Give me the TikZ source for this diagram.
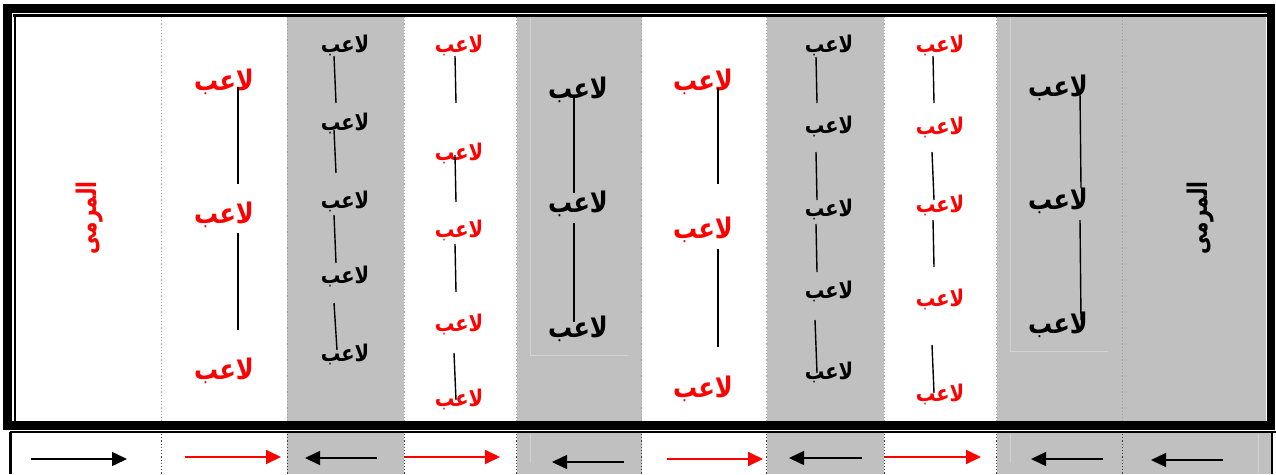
\documentclass[tikz,border=0pt]{standalone}
\usepackage{fontspec}
\usetikzlibrary{arrows.meta}
\newfontfamily\arabicfont[Script=Arabic]{DejaVu Sans}
\TeXXeTstate=1
\definecolor{cellgrey}{HTML}{C0C0C0}
\definecolor{faintline}{HTML}{D2D2D2}
\definecolor{sepgrey}{HTML}{A0A0A0}
\definecolor{sepdark}{HTML}{404040}
\definecolor{plred}{HTML}{FF0000}
\newcommand{\lw}{\scalebox{1}[1.18]{\beginR لاعب\endR}}
\newcommand{\goalw}{\scalebox{1}[1.35]{\beginR المرمى\endR}}
\begin{document}
\begin{tikzpicture}[x=1pt,y=-1pt,
  bigl/.style={inner sep=0pt, font=\arabicfont\bfseries\fontsize{24}{28}\selectfont},
  smalll/.style={inner sep=0pt, font=\arabicfont\bfseries\fontsize{19.5}{23}\selectfont},
  goal/.style={inner sep=0pt, rotate=90, font=\arabicfont\bfseries\fontsize{20}{24}\selectfont},
  redp/.style={text=plred},
  blackp/.style={text=black},
  link/.style={draw=black, line width=1.4pt},
  arrowr/.style={draw=plred, line width=1.8pt, -{Triangle[length=15pt,width=14pt]}},
  arrowb/.style={draw=black, line width=1.5pt, -{Triangle[length=15pt,width=14pt]}},
  topsep/.style={draw=sepgrey, line width=1.2pt, dotted},
  botsep/.style={draw=sepdark, line width=1.2pt, dotted},
  greycell/.style={fill=cellgrey},
  faint/.style={draw=faintline, line width=0.8pt}
]
\useasboundingbox (0,0) rectangle (1276,474);
\fill[white] (0,0) rectangle (1276,474);

% grey columns, top region
\foreach \a/\b in {287.3/404.3, 516.7/641.7, 766.7/884.3, 996.7/1122.7, 1122.7/1266}
  \fill[greycell] (\a,16.5) rectangle (\b,421);
% grey columns, bottom row
\foreach \a/\b in {287.3/404.3, 516.7/641.7, 766.7/884.3, 996.7/1122.7, 1122.7/1271}
  \fill[greycell] (\a,433) rectangle (\b,474);

% faint inner boxes
\draw[faint] (530.7,16.5) -- (530.7,355) -- (627.7,355);
\draw[faint] (1010.7,16.5) -- (1010.7,351) -- (1107.7,351);
\draw[faint] (530.7,434) -- (530.7,463);
\draw[faint] (1010.7,434) -- (1010.7,463);
\draw[faint] (1258,434) -- (1258,474);

% column separators
\foreach \x in {161.7, 287.3, 404.3, 516.7, 641.7, 766.7, 884.3, 996.7, 1122.7}
  \draw[topsep] (\x,17) -- (\x,421);
\foreach \x in {161.7, 287.3, 404.3, 516.7, 641.7, 766.7, 884.3, 996.7, 1122.7}
  \draw[botsep] (\x,434) -- (\x,474);

% frame: thick outer, thin inner (left and top)
\draw[line width=8.6pt] (7.6,8.4) rectangle (1270.8,425.2);
\draw[line width=2.3pt] (14.7,14.3) -- (14.7,421);
\draw[line width=2.3pt] (13.4,15.5) -- (1266.5,15.5);
% bottom row borders
\draw[line width=1.8pt] (9.5,432) -- (1276,432);
\draw[line width=2.2pt] (10.5,432) -- (10.5,474);
\draw[line width=2.2pt] (1271.7,432) -- (1271.7,474);

% goal labels
\node[goal, redp] (goalL) at (90,218) {\goalw};
\node[goal, blackp] (goalR) at (1201,218) {\goalw};

% column 2 (red)
\node[bigl, redp] (c2a) at (224,82) {\lw};
\node[bigl, redp] (c2b) at (224,215) {\lw};
\node[bigl, redp] (c2c) at (224,371) {\lw};
% column 3 (black)
\node[smalll, blackp] (c3a) at (345,45) {\lw};
\node[smalll, blackp] (c3b) at (345,123) {\lw};
\node[smalll, blackp] (c3c) at (345,201) {\lw};
\node[smalll, blackp] (c3d) at (345,276) {\lw};
\node[smalll, blackp] (c3e) at (345,354) {\lw};
% column 4 (red)
\node[smalll, redp] (c4a) at (459,45) {\lw};
\node[smalll, redp] (c4b) at (459,153) {\lw};
\node[smalll, redp] (c4c) at (459,230) {\lw};
\node[smalll, redp] (c4d) at (459,324) {\lw};
\node[smalll, redp] (c4e) at (459,399) {\lw};
% column 5 (black)
\node[bigl, blackp] (c5a) at (578,90) {\lw};
\node[bigl, blackp] (c5b) at (578,204) {\lw};
\node[bigl, blackp] (c5c) at (578,329) {\lw};
% column 6 (red)
\node[bigl, redp] (c6a) at (703,82) {\lw};
\node[bigl, redp] (c6b) at (703,230) {\lw};
\node[bigl, redp] (c6c) at (703,389) {\lw};
% column 7 (black)
\node[smalll, blackp] (c7a) at (829,45) {\lw};
\node[smalll, blackp] (c7b) at (829,126) {\lw};
\node[smalll, blackp] (c7c) at (829,209) {\lw};
\node[smalll, blackp] (c7d) at (829,291) {\lw};
\node[smalll, blackp] (c7e) at (829,372) {\lw};
% column 8 (red)
\node[smalll, redp] (c8a) at (940,45) {\lw};
\node[smalll, redp] (c8b) at (940,127) {\lw};
\node[smalll, redp] (c8c) at (940,205) {\lw};
\node[smalll, redp] (c8d) at (940,299) {\lw};
\node[smalll, redp] (c8e) at (940,394) {\lw};
% column 9 (black)
\node[bigl, blackp] (c9a) at (1058,88) {\lw};
\node[bigl, blackp] (c9b) at (1058,201) {\lw};
\node[bigl, blackp] (c9c) at (1058,325) {\lw};

% connecting lines
\draw[link] (238,87) coordinate (l2a) -- (238,184) coordinate (l2b);
\draw[link] (238,233) coordinate (l2c) -- (238,330) coordinate (l2d);
\draw[link] (334,56) coordinate (l3a) -- (336,103) coordinate (l3b);
\draw[link] (334,130) coordinate (l3c) -- (336,173) coordinate (l3d);
\draw[link] (334,215) coordinate (l3e) -- (336,263) coordinate (l3f);
\draw[link] (334,303) coordinate (l3g) -- (337,350) coordinate (l3h);
\draw[link] (455,56) coordinate (l4a) -- (456,103) coordinate (l4b);
\draw[link] (455,155) coordinate (l4c) -- (456,202) coordinate (l4d);
\draw[link] (455,244) coordinate (l4e) -- (456,292) coordinate (l4f);
\draw[link] (454,353) coordinate (l4g) -- (456,400) coordinate (l4h);
\draw[link] (574,95) coordinate (l5a) -- (574,193) coordinate (l5b);
\draw[link] (574,223) coordinate (l5c) -- (574,322) coordinate (l5d);
\draw[link] (718,88) coordinate (l6a) -- (718,184) coordinate (l6b);
\draw[link] (718,249) coordinate (l6c) -- (718,347) coordinate (l6d);
\draw[link] (816,57) coordinate (l7a) -- (817,103) coordinate (l7b);
\draw[link] (816,152) coordinate (l7c) -- (817,200) coordinate (l7d);
\draw[link] (816,224) coordinate (l7e) -- (817,272) coordinate (l7f);
\draw[link] (815,320) coordinate (l7g) -- (817,373) coordinate (l7h);
\draw[link] (933,56) coordinate (l8a) -- (934,103) coordinate (l8b);
\draw[link] (932,152) coordinate (l8c) -- (934,200) coordinate (l8d);
\draw[link] (933,220) coordinate (l8e) -- (934,267) coordinate (l8f);
\draw[link] (932,345) coordinate (l8g) -- (934,393) coordinate (l8h);
\draw[link] (1080,93) coordinate (l9a) -- (1081,188) coordinate (l9b);
\draw[link] (1080,220) coordinate (l9c) -- (1081,320) coordinate (l9d);

% direction arrows
\draw[arrowb] (31,459) coordinate (a1s) -- (127,459) coordinate (a1e);
\draw[arrowr] (185,457) coordinate (a2s) -- (281,457) coordinate (a2e);
\draw[arrowb] (377,458) coordinate (a3s) -- (305,458) coordinate (a3e);
\draw[arrowr] (405,457) coordinate (a4s) -- (500,457) coordinate (a4e);
\draw[arrowb] (624,462) coordinate (a5s) -- (552,462) coordinate (a5e);
\draw[arrowr] (667,459) coordinate (a6s) -- (763,459) coordinate (a6e);
\draw[arrowb] (862,458) coordinate (a7s) -- (789,458) coordinate (a7e);
\draw[arrowr] (885,457) coordinate (a8s) -- (981,457) coordinate (a8e);
\draw[arrowb] (1103,459) coordinate (a9s) -- (1031,459) coordinate (a9e);
\draw[arrowb] (1223,460) coordinate (a10s) -- (1151,460) coordinate (a10e);
\end{tikzpicture}
\end{document}
